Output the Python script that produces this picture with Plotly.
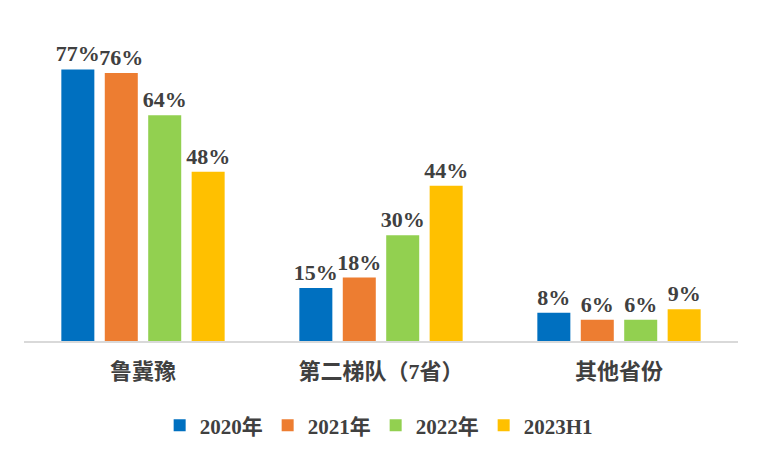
import plotly.graph_objects as go

categories = ["鲁冀豫", "第二梯队（7省）", "其他省份"]
series_names = ["2020年", "2021年", "2022年", "2023H1"]
v2020 = [77, 15, 8]
v2021 = [76, 18, 6]
v2022 = [64, 30, 6]
v2023 = [48, 44, 9]
colors = ["#0070C0", "#ED7D31", "#92D050", "#FFC000"]

font_fam = "Liberation Serif, Noto Sans CJK SC, serif"
fig = go.Figure()
for name, vals, c in zip(series_names, [v2020, v2021, v2022, v2023], colors):
    fig.add_trace(go.Bar(
        x=categories, y=vals, name=name,
        marker=dict(color=c, line=dict(width=6, color="rgba(0,0,0,0)")),
        text=[f"{v}%" for v in vals], textposition="outside", cliponaxis=False,
        constraintext="none",
        textfont=dict(family=font_fam, size=22, color="#404040", weight="bold"),
    ))

fig.update_layout(
    width=761, height=457,
    margin=dict(l=16, r=31, t=12, b=124),
    paper_bgcolor="white", plot_bgcolor="white",
    barmode="group", bargap=0.27, bargroupgap=0.24,
    showlegend=True,
    legend=dict(orientation="h", x=0.19, xanchor="left", y=-0.2, yanchor="top",
                font=dict(family=font_fam, size=21, color="#404040", weight="bold"),
                itemwidth=30, traceorder="normal"),
    xaxis=dict(range=[-0.5, 2.5], showline=True, linecolor="#D9D9D9", linewidth=1.5,
               ticks="", ticklabelstandoff=10,
               tickfont=dict(family=font_fam, size=22, color="#404040", weight="bold"),
               showgrid=False),
    yaxis=dict(range=[0, 91], visible=False, showgrid=False),
)
fig.write_html("out.html")
